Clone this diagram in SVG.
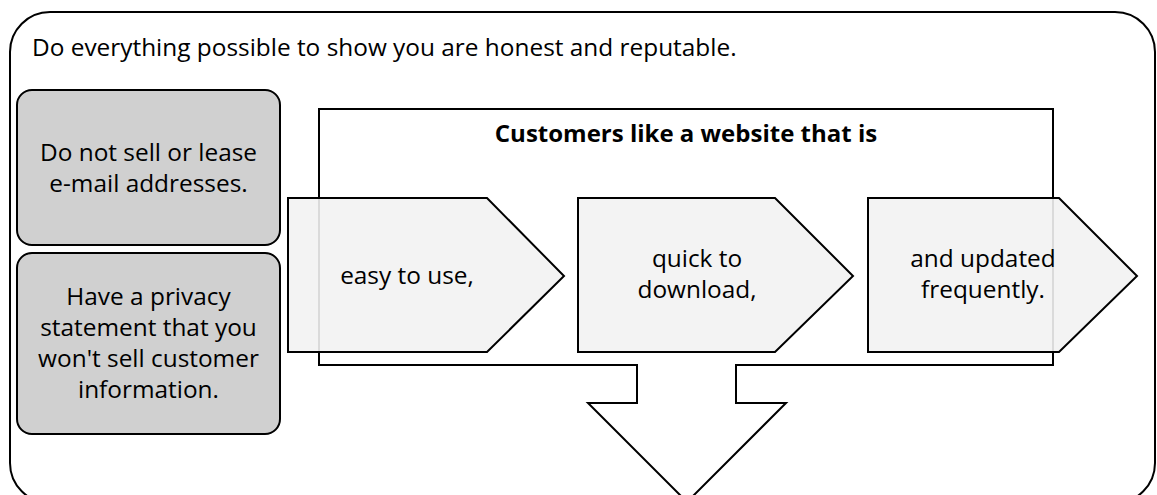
<svg xmlns="http://www.w3.org/2000/svg" width="1157" height="495" viewBox="0 0 1157 495">
  <style>
    .frame { fill: #ffffff; stroke: #000000; stroke-width: 2; }
    .note { fill: #d0d0d0; stroke: #000000; stroke-width: 2; }
    .step { fill: #f2f2f2; fill-opacity: 0.9; stroke: #000000; stroke-width: 2; stroke-linejoin: miter; }
    .label { font-family: "Open Sans", "Noto Sans", "Liberation Sans", sans-serif; font-size: 24.4px; fill: #000000; }
    .mid { text-anchor: middle; }
    .title { font-weight: bold; font-size: 24px; }
  </style>

  <!-- outer container -->
  <g id="container">
    <rect class="frame" x="10" y="12" width="1145" height="491" rx="40" ry="40"/>
    <text class="label" x="32" y="56">Do everything possible to show you are honest and reputable.</text>
  </g>

  <!-- downward arrow framing the website qualities -->
  <g id="website-arrow">
    <path class="frame" d="M319,109 H1053 V365 H736 V403 H786 L687,502 L588,403 H637 V365 H319 Z"/>
    <text class="label mid title" x="686" y="142">Customers like a website that is</text>
  </g>

  <!-- left-hand notes -->
  <g id="note-email">
    <rect class="note" x="17" y="90" width="263" height="155" rx="15" ry="15"/>
    <text class="label mid" x="148.5" y="161">Do not sell or lease</text>
    <text class="label mid" x="148.5" y="192">e-mail addresses.</text>
  </g>
  <g id="note-privacy">
    <rect class="note" x="17" y="253" width="263" height="181" rx="15" ry="15"/>
    <text class="label mid" x="148.5" y="305">Have a privacy</text>
    <text class="label mid" x="148.5" y="336">statement that you</text>
    <text class="label mid" x="148.5" y="367">won't sell customer</text>
    <text class="label mid" x="148.5" y="398">information.</text>
  </g>

  <!-- chevron steps -->
  <g id="step-easy">
    <path class="step" d="M288,198 H487 L564,276 L487,352 H288 Z"/>
    <text class="label mid" x="407" y="284">easy to use,</text>
  </g>
  <g id="step-quick">
    <path class="step" d="M578,198 H775 L853,276 L775,352 H578 Z"/>
    <text class="label mid" x="697" y="267">quick to</text>
    <text class="label mid" x="697" y="298">download,</text>
  </g>
  <g id="step-updated">
    <path class="step" d="M868,198 H1059 L1137,276 L1059,352 H868 Z"/>
    <text class="label mid" x="983" y="267">and updated</text>
    <text class="label mid" x="983" y="298">frequently.</text>
  </g>

  <!-- no connectors between nodes -->
  <g id="connectors"/>
</svg>
